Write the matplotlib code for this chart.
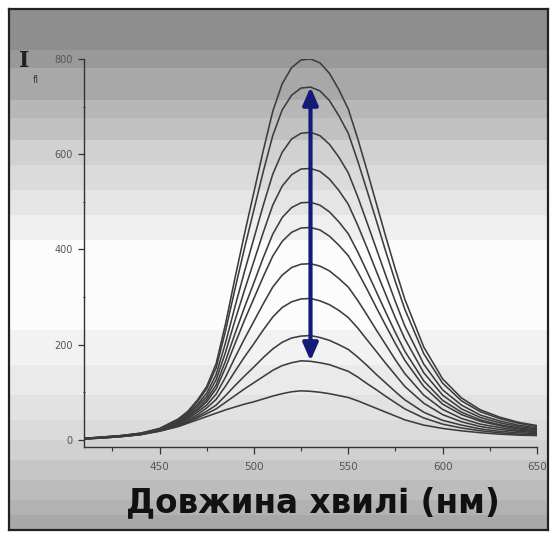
import numpy as np
import matplotlib
matplotlib.use("Agg")
import matplotlib.pyplot as plt
from matplotlib.ticker import MultipleLocator

# --- data ---
wavelength = [410, 420, 430, 440, 450, 460, 465, 470, 475, 480, 485, 490, 495,
              500, 505, 510, 515, 520, 525, 530, 535, 540, 545, 550, 555, 560,
              565, 570, 575, 580, 590, 600, 610, 620, 630, 640, 650]

I_800 = [3, 6, 9, 14, 24, 44, 60, 83, 112, 160, 244, 340, 432, 520, 608, 690, 748, 782, 798, 800, 792, 770, 736, 695, 633, 565, 495, 425, 358, 295, 195, 128, 88, 63, 48, 37, 30]
I_741 = [3, 6, 9, 14, 23, 43, 58, 80, 107, 151, 229, 317, 402, 483, 564, 639, 693, 724, 739, 741, 733, 713, 681, 644, 586, 523, 459, 394, 332, 274, 181, 119, 82, 59, 45, 35, 28]
I_646 = [3, 6, 9, 13, 23, 40, 55, 74, 98, 137, 204, 280, 353, 423, 493, 558, 604, 632, 644, 646, 639, 621, 594, 561, 511, 456, 400, 344, 290, 239, 159, 105, 73, 52, 40, 31, 25]
I_570 = [3, 5, 8, 13, 22, 39, 52, 70, 91, 126, 184, 251, 314, 375, 436, 493, 533, 557, 569, 570, 564, 548, 524, 495, 451, 403, 353, 304, 256, 212, 141, 94, 65, 47, 36, 28, 23]
I_499 = [3, 5, 8, 13, 21, 37, 49, 65, 85, 115, 166, 223, 278, 330, 383, 432, 467, 488, 498, 499, 493, 479, 458, 433, 395, 353, 310, 267, 225, 186, 124, 83, 58, 42, 32, 25, 21]
I_446 = [2, 5, 8, 12, 21, 36, 47, 62, 80, 107, 152, 202, 251, 297, 343, 386, 417, 436, 445, 446, 441, 428, 409, 387, 353, 316, 277, 239, 202, 167, 112, 75, 53, 39, 30, 23, 19]
I_370 = [2, 5, 8, 12, 20, 34, 45, 58, 73, 96, 132, 173, 212, 249, 286, 321, 346, 362, 369, 370, 365, 355, 339, 321, 293, 262, 230, 199, 168, 139, 94, 64, 45, 33, 26, 20, 17]
I_297 = [2, 5, 8, 12, 20, 32, 42, 53, 67, 85, 113, 144, 174, 202, 231, 258, 278, 290, 296, 297, 292, 284, 272, 257, 235, 210, 185, 160, 136, 112, 77, 53, 38, 28, 22, 18, 15]
I_219 = [2, 4, 7, 11, 19, 31, 39, 49, 60, 73, 93, 114, 134, 153, 173, 191, 205, 214, 218, 219, 215, 209, 200, 190, 174, 156, 137, 119, 101, 84, 58, 41, 31, 23, 18, 15, 13]
I_166 = [2, 4, 7, 11, 19, 29, 37, 46, 55, 65, 79, 93, 107, 120, 133, 146, 156, 162, 166, 165, 162, 158, 151, 144, 132, 118, 105, 91, 78, 65, 46, 33, 25, 19, 15, 12, 11]
I_103 = [2, 4, 7, 11, 18, 28, 35, 42, 49, 56, 63, 69, 75, 80, 86, 92, 97, 101, 103, 102, 100, 97, 93, 89, 82, 74, 66, 58, 50, 42, 31, 24, 19, 15, 12, 10, 9]

spectra = [I_800, I_741, I_646, I_570, I_499, I_446, I_370, I_297, I_219, I_166, I_103]

x_ticks = [450, 500, 550, 600, 650]
y_ticks = [0, 200, 400, 600, 800]

# background bands (top pixel row, grey level) - style only
bands = [(9, 0.56), (50, 0.60), (68, 0.66), (100, 0.72), (118, 0.76),
         (140, 0.82), (165, 0.86), (190, 0.90), (215, 0.94), (240, 0.99),
         (330, 0.95), (365, 0.92), (395, 0.89), (420, 0.86), (440, 0.82),
         (460, 0.78), (480, 0.74), (500, 0.70), (515, 0.66), (530, None)]

W, H = 555, 536
fig = plt.figure(figsize=(W / 100, H / 100), dpi=100)
fig.patch.set_facecolor("white")

# framed gradient background
f_left, f_right, f_top, f_bot = 9, 548, 9, 530
bg = fig.add_axes([f_left / W, 1 - f_bot / H, (f_right - f_left) / W, (f_bot - f_top) / H])
rows = []
for (y0, g), (y1, _) in zip(bands[:-1], bands[1:]):
    rows += [g] * (y1 - y0)
img = np.array(rows).reshape(-1, 1)
bg.imshow(np.repeat(img[:, :, None], 3, axis=2), aspect="auto",
          extent=(0, 1, 0, 1), interpolation="nearest")
bg.set_xticks([])
bg.set_yticks([])
for s in bg.spines.values():
    s.set_color("#222222")
    s.set_linewidth(1.6)

# main plot
ax = fig.add_axes([84 / W, 1 - 447 / H, (537 - 84) / W, (447 - 59) / H])
ax.patch.set_alpha(0)
for y in spectra:
    ax.plot(wavelength, y, color="#3c3c3c", lw=1.15, solid_joinstyle="round")

peak_x = wavelength[int(np.argmax(I_741))]
ax.annotate("", xy=(peak_x, max(I_741)), xytext=(peak_x, max(I_166)),
            arrowprops=dict(arrowstyle="<|-|>,head_length=0.8,head_width=0.35",
                            color="#141a78", lw=3, mutation_scale=13,
                            shrinkA=0, shrinkB=0))

ax.set_xlim(410, 650)
ax.set_ylim(-15, 800)
ax.spines["top"].set_visible(False)
ax.spines["right"].set_visible(False)
for s in ("left", "bottom"):
    ax.spines[s].set_color("#333333")
    ax.spines[s].set_linewidth(1.0)

ax.set_xticks(x_ticks)
ax.set_yticks(y_ticks)
ax.xaxis.set_minor_locator(MultipleLocator(25))
ax.yaxis.set_minor_locator(MultipleLocator(100))
ax.tick_params(axis="both", which="major", colors="#333333",
               labelcolor="#555555", width=0.9)
ax.tick_params(axis="x", which="major", length=5, pad=6, labelsize=7.5)
ax.tick_params(axis="y", which="major", length=4, pad=4, labelsize=7)
ax.tick_params(axis="x", which="minor", length=3, width=0.8, colors="#333333")
ax.tick_params(axis="y", which="minor", length=2, width=0.8, colors="#333333",
               direction="inout")

fig.text(24 / W, 1 - 61 / H, "I", fontsize=16, family="DejaVu Serif",
         weight="bold", ha="center", va="center", color="#222222")
fig.text(36 / W, 1 - 80 / H, "fl", fontsize=7, family="DejaVu Sans",
         ha="center", va="center", color="#444444")

fig.text(313 / W, 1 - 503 / H, "Довжина хвилі (нм)", fontsize=23.5,
         family="DejaVu Sans", weight="bold", ha="center", va="center",
         color="#111111")

fig.savefig("out.png", dpi=100)
